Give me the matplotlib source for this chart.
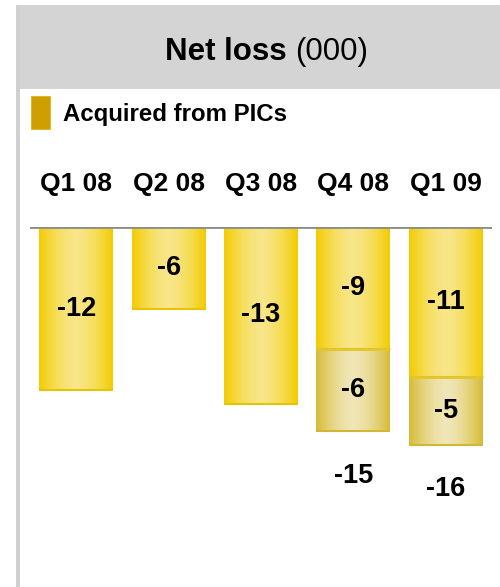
import numpy as np
import matplotlib
matplotlib.use("Agg")
import matplotlib.pyplot as plt
from matplotlib.patches import Rectangle
from matplotlib.colors import to_rgb

plt.rcParams["font.family"] = ["Liberation Sans", "DejaVu Sans"]

quarters = ["Q1 08", "Q2 08", "Q3 08", "Q4 08", "Q1 09"]
net_loss = [-12, -6, -13, -9, -11]
from_pics = [0, 0, 0, -6, -5]

W, H = 500, 587
fig = plt.figure(figsize=(W / 100, H / 100), dpi=100)


def fx(px):
    return px / W


def fy(py):
    return 1 - py / H


# header band and left rule
fig.patches.append(Rectangle((fx(16), fy(89)), fx(484), 84 / H, transform=fig.transFigure,
                             facecolor="#d4d4d4", edgecolor="none", zorder=0))
fig.patches.append(Rectangle((fx(16), 0), fx(4), fy(5), transform=fig.transFigure,
                             facecolor="#d0d0d0", edgecolor="none", zorder=0))

# title: bold part + regular part
r = fig.canvas.get_renderer()
t1 = fig.text(fx(165), fy(52), "Net loss ", fontsize=22.5, fontweight="bold", va="center", ha="left")
bb = t1.get_window_extent(renderer=r)
fig.text(bb.x1 / W, fy(52), "(000)", fontsize=22.5, va="center", ha="left")

# legend
fig.patches.append(Rectangle((fx(31), fy(129)), fx(19), 33 / H, transform=fig.transFigure,
                             facecolor="#cf9e00", edgecolor="#e0b830", linewidth=0.8))
fig.text(fx(63), fy(115), "Acquired from PICs", fontsize=17.3, fontweight="bold", va="center")

# chart axes: zero line at y=227 px
ax = fig.add_axes([fx(30), 0, fx(462), fy(227)])
ax.set_xlim(-0.5, 4.5)
ax.set_ylim(-(H - 227) / 13.6, 0)
ax.axis("off")


def shade(patch, edge, mid):
    x0, y0 = patch.get_x(), patch.get_y()
    w, h = patch.get_width(), patch.get_height()
    t = np.linspace(0, 1, 200)
    k = 1 - np.abs(2 * t - 1) ** 1.6
    e, m = np.array(to_rgb(edge)), np.array(to_rgb(mid))
    img = e + (m - e) * k[:, None]
    im = ax.imshow(img[None, :, :], extent=[x0, x0 + w, y0 + h, y0], aspect="auto", zorder=2)
    im.set_clip_path(patch)


x = np.arange(len(quarters))
bars = ax.bar(x, net_loss, width=0.8, color="#f2cd00", edgecolor="none", zorder=1)
for b in bars:
    shade(b, "#f2cc00", "#f8e688")
    ax.plot([b.get_x(), b.get_x() + b.get_width()], [b.get_height()] * 2,
            color="#e6c400", lw=1.5, zorder=3, solid_capstyle="butt")

pics = ax.bar(x, from_pics, bottom=net_loss, width=0.8, color="#d5bc3c", edgecolor="none", zorder=1)
for b, p in zip(pics, from_pics):
    if p == 0:
        continue
    shade(b, "#d6bb36", "#f0e6b6")
    y_top = b.get_y()
    y_bot = b.get_y() + b.get_height()
    ax.plot([b.get_x(), b.get_x() + b.get_width()], [y_top] * 2,
            color="#e3c52c", lw=2, zorder=3, solid_capstyle="butt")
    ax.plot([b.get_x(), b.get_x() + b.get_width()], [y_bot] * 2,
            color="#d2b732", lw=1.5, zorder=3, solid_capstyle="butt")

ax.axhline(0, color="#8c8c8c", lw=2, zorder=4)

for i, q in enumerate(quarters):
    ax.text(i, 3.15, q, ha="center", va="center", fontsize=19, fontweight="bold", clip_on=False)
    ax.text(i, net_loss[i] / 2, str(net_loss[i]), ha="center", va="center",
            fontsize=19.5, fontweight="bold", zorder=5)
    if from_pics[i] != 0:
        ax.text(i, net_loss[i] + from_pics[i] / 2, str(from_pics[i]), ha="center", va="center",
                fontsize=19.5, fontweight="bold", zorder=5)
        total = net_loss[i] + from_pics[i]
        ax.text(i, total - 3.3, str(total), ha="center", va="center",
                fontsize=19.5, fontweight="bold", zorder=5)

fig.savefig("out.png", dpi=100)
